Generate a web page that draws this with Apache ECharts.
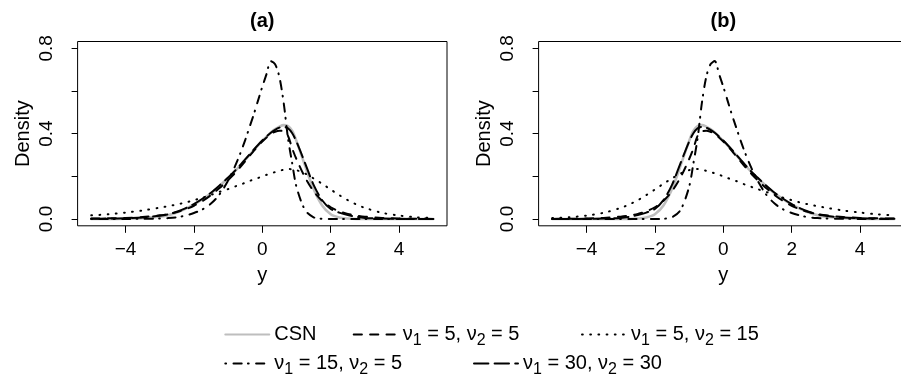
<!DOCTYPE html>
<html><head><meta charset="utf-8">
<script src="https://cdn.jsdelivr.net/npm/echarts@6/dist/echarts.min.js"></script>
<style>html,body{margin:0;padding:0;background:#fff}#c{width:901px;height:379px}</style>
</head><body><div id="c"></div>
<script>
// ---- data ----
const xs = [-5,-4.5,-4,-3.5,-3,-2.75,-2.5,-2.25,-2,-1.75,-1.5,-1.25,-1,-0.875,-0.75,-0.625,-0.5,-0.375,-0.25,-0.125,0,0.125,0.25,0.375,0.5,0.625,0.75,0.875,1,1.25,1.5,1.75,2,2.25,2.5,2.75,3,3.5,4,4.5,5];

// panel (a)
const csnA      = [0,0,0.001,0.004,0.011,0.018,0.03,0.047,0.068,0.093,0.12,0.155,0.192,0.212,0.233,0.255,0.278,0.3,0.323,0.345,0.366,0.386,0.405,0.421,0.433,0.44,0.435,0.413,0.365,0.25,0.14,0.063,0.022,0.007,0.002,0,0,0,0,0,0];
const nu5_5A    = [0.002,0.003,0.005,0.009,0.017,0.023,0.032,0.045,0.062,0.084,0.112,0.145,0.182,0.202,0.224,0.247,0.271,0.295,0.319,0.342,0.363,0.382,0.398,0.409,0.414,0.41,0.39,0.33,0.28,0.195,0.13,0.085,0.055,0.036,0.024,0.016,0.011,0.005,0.002,0.001,0];
const nu5_15A   = [0.017,0.022,0.03,0.04,0.053,0.06,0.068,0.077,0.088,0.1,0.113,0.127,0.14,0.147,0.155,0.162,0.17,0.178,0.185,0.192,0.2,0.207,0.214,0.22,0.226,0.231,0.234,0.233,0.229,0.213,0.19,0.165,0.138,0.112,0.088,0.068,0.052,0.029,0.016,0.008,0.004];
const nu15_5A   = [0,0,0,0.001,0.002,0.004,0.008,0.016,0.028,0.045,0.072,0.115,0.18,0.22,0.265,0.315,0.37,0.43,0.49,0.555,0.62,0.68,0.74,0.725,0.665,0.545,0.38,0.26,0.15,0.042,0.008,0.001,0,0,0,0,0,0,0,0,0];
const nu30_30A  = [0.001,0.002,0.003,0.007,0.015,0.022,0.034,0.05,0.07,0.095,0.123,0.157,0.194,0.213,0.234,0.256,0.279,0.302,0.325,0.347,0.368,0.387,0.404,0.418,0.428,0.432,0.425,0.402,0.362,0.262,0.16,0.088,0.047,0.03,0.018,0.01,0.005,0.002,0.001,0,0];

// panel (b)
const csnB      = [0,0,0,0,0,0,0.002,0.007,0.022,0.063,0.14,0.25,0.365,0.413,0.435,0.44,0.433,0.421,0.405,0.386,0.366,0.345,0.323,0.3,0.278,0.255,0.233,0.212,0.192,0.155,0.12,0.093,0.068,0.047,0.03,0.018,0.011,0.004,0.001,0,0];
const nu5_5B    = [0,0.001,0.002,0.005,0.011,0.016,0.024,0.036,0.055,0.085,0.13,0.195,0.28,0.33,0.39,0.41,0.414,0.409,0.398,0.382,0.363,0.342,0.319,0.295,0.271,0.247,0.224,0.202,0.182,0.145,0.112,0.084,0.062,0.045,0.032,0.023,0.017,0.009,0.005,0.003,0.002];
const nu5_15B   = [0.004,0.008,0.016,0.029,0.052,0.068,0.088,0.112,0.138,0.165,0.19,0.213,0.229,0.233,0.234,0.231,0.226,0.22,0.214,0.207,0.2,0.192,0.185,0.178,0.17,0.162,0.155,0.147,0.14,0.127,0.113,0.1,0.088,0.077,0.068,0.06,0.053,0.04,0.03,0.022,0.017];
const nu15_5B   = [0,0,0,0,0,0,0,0,0,0.001,0.008,0.042,0.15,0.26,0.38,0.545,0.665,0.725,0.74,0.68,0.62,0.555,0.49,0.43,0.37,0.315,0.265,0.22,0.18,0.115,0.072,0.045,0.028,0.016,0.008,0.004,0.002,0.001,0,0,0];
const nu30_30B  = [0,0,0.001,0.002,0.005,0.01,0.018,0.03,0.047,0.088,0.16,0.262,0.362,0.402,0.425,0.432,0.428,0.418,0.404,0.387,0.368,0.347,0.325,0.302,0.279,0.256,0.234,0.213,0.194,0.157,0.123,0.095,0.07,0.05,0.034,0.022,0.015,0.007,0.003,0.002,0.001];

const seriesNames = ['CSN', 'ν1 = 5, ν2 = 5', 'ν1 = 5, ν2 = 15', 'ν1 = 15, ν2 = 5', 'ν1 = 30, ν2 = 30'];
const panelTitles = ['(a)', '(b)'];
const xTicks = [-4, -2, 0, 2, 4];
const yTicks = [0, 0.2, 0.4, 0.6, 0.8];
const yTickLabels = [0, 0.4, 0.8];
const xName = 'y';
const yName = 'Density';

// ---- styling ----
const FONT = '"Liberation Sans", Arial, Helvetica, sans-serif';
const styles = [
  {color:'#bebebe', width:2.6, type:'solid'},
  {color:'#000', width:2, type:[8.2, 8.2]},
  {color:'#000', width:2, type:[0.8, 7.4]},
  {color:'#000', width:2, type:[0.8, 7.4, 8.2, 6.2]},
  {color:'#000', width:2, type:[14.4, 6.2]}
];
const gridLefts = [77.6, 538.6];
const GT = 41.5, GW = 369.4, GH = 184.3;

const panels = [
  [csnA, nu5_5A, nu5_15A, nu15_5A, nu30_30A],
  [csnB, nu5_5B, nu5_15B, nu15_5B, nu30_30B]
];

const grids = gridLefts.map(l => ({left:l, top:GT, width:GW, height:GH, show:true,
  borderColor:'#000', borderWidth:1, backgroundColor:'transparent', containLabel:false, outerBoundsMode:'none'}));

const xAxes = gridLefts.map((l, gi) => ({
  type:'value', gridIndex:gi, min:-5.4, max:5.4, position:'bottom',
  name:xName, nameLocation:'middle', nameGap:40,
  nameTextStyle:{fontSize:20, fontFamily:FONT, color:'#000'},
  axisLine:{show:false, onZero:false},
  axisTick:{show:true, length:7, customValues:xTicks, lineStyle:{color:'#000', width:1}},
  axisLabel:{show:true, customValues:xTicks, fontSize:19, fontFamily:FONT, color:'#000', margin:14,
    formatter: v => String(v).replace('-', '\u2212')},
  splitLine:{show:false}
}));

const yAxes = gridLefts.map((l, gi) => ({
  type:'value', gridIndex:gi, min:-0.032, max:0.832, position:'left',
  name:yName, nameLocation:'middle', nameGap:44, nameRotate:90,
  nameTextStyle:{fontSize:20, fontFamily:FONT, color:'#000'},
  axisLine:{show:false, onZero:false},
  axisTick:{show:true, length:6, customValues:yTicks, lineStyle:{color:'#000', width:1}},
  axisLabel:{show:true, customValues:yTickLabels, rotate:90, fontSize:19, fontFamily:FONT, color:'#000', margin:21,
    formatter: v => Number(v).toFixed(1)},
  splitLine:{show:false}
}));

const series = [];
panels.forEach((arrs, gi) => {
  arrs.forEach((arr, si) => {
    const st = styles[si];
    series.push({
      type:'line', name:seriesNames[si], xAxisIndex:gi, yAxisIndex:gi,
      data: xs.map((x, i) => [x, arr[i]]),
      showSymbol:false, symbol:'none', smooth:0.3,
      lineStyle:{color:st.color, width:st.width, type:st.type, cap:'round', join:'round'},
      itemStyle:{color:st.color},
      z: si === 0 ? 2 : 3, animation:false
    });
  });
});

const legendPos = [
  {left:224.3, top:334.5},
  {left:352.7, top:334.5},
  {left:581,   top:334.5},
  {left:224.3, top:363.5},
  {left:473,   top:363.5}
];
const legends = legendPos.map((p, i) => ({
  data:[seriesNames[i]], left:p.left, top:p.top - 14, padding:0, orient:'horizontal',
  itemWidth:44, itemHeight:14, selectedMode:false,
  itemStyle:{opacity:0, borderWidth:0},
  textStyle:{fontSize:20, lineHeight:28, fontFamily:FONT, color:'#000',
    rich:{s:{fontSize:16, lineHeight:16, verticalAlign:'bottom', fontFamily:FONT, color:'#000'}}},
  formatter: name => name.replace(/ν(\d)/g, 'ν{s|$1}')
}));

const chart = echarts.init(document.getElementById('c'), null, {renderer:'canvas'});
chart.setOption({
  animation:false,
  backgroundColor:'#fff',
  grid: grids,
  xAxis: xAxes,
  yAxis: yAxes,
  legend: legends,
  series: series,
  graphic: panelTitles.map((t, i) => ({
    type:'text', x: gridLefts[i] + GW / 2, y: 21,
    style:{text:t, fontSize:20, fontWeight:'bold', fontFamily:FONT, fill:'#000',
      align:'center', verticalAlign:'middle', textAlign:'center', textVerticalAlign:'middle'}
  }))
});
</script></body></html>
